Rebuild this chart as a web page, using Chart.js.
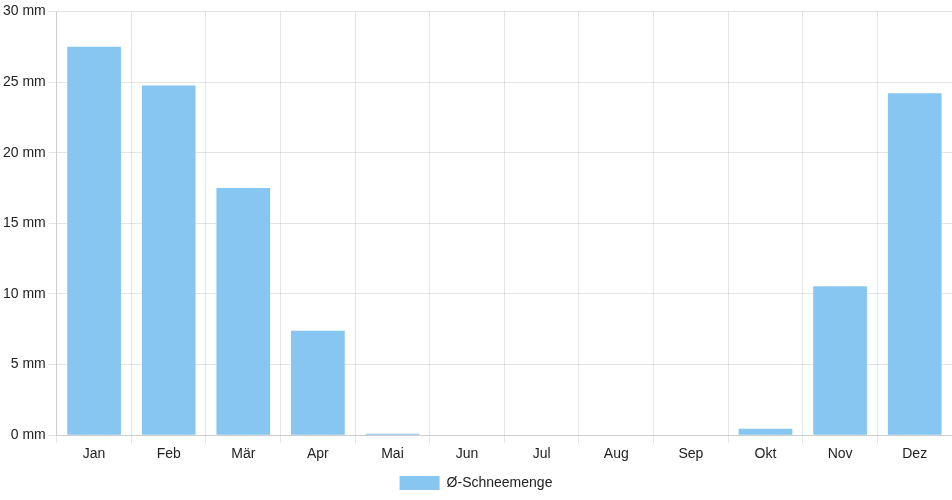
<!DOCTYPE html>
<html>
<head>
<meta charset="utf-8">
<script src="https://cdn.jsdelivr.net/npm/chart.js@4/dist/chart.umd.min.js"></script>
<style>
  html, body { margin: 0; padding: 0; background: #fff; }
  #wrap { width: 952px; height: 500px; }
</style>
</head>
<body>
<div id="wrap"><canvas id="snowChart"></canvas></div>
<script>
const months = ["Jan", "Feb", "Mär", "Apr", "Mai", "Jun", "Jul", "Aug", "Sep", "Okt", "Nov", "Dez"];
const snowAmount = [27.5, 24.75, 17.5, 7.4, 0.1, 0, 0, 0, 0, 0.45, 10.55, 24.2];
const seriesLabel = "Ø-Schneemenge";

Chart.defaults.font.family = "'Liberation Sans', Arial, sans-serif";
Chart.defaults.font.size = 14;
Chart.defaults.color = "#222";

new Chart(document.getElementById("snowChart"), {
  type: "bar",
  data: {
    labels: months,
    datasets: [
      {
        label: seriesLabel,
        data: snowAmount,
        backgroundColor: "#88c6f2",
        borderColor: "#88c6f2",
        borderWidth: 0,
      },
    ],
  },
  options: {
    responsive: true,
    maintainAspectRatio: false,
    animation: false,
    plugins: {
      legend: {
        position: "bottom",
      },
      tooltip: { enabled: false },
    },
    scales: {
      y: {
        min: 0,
        max: 30,
        ticks: {
          stepSize: 5,
          callback: value => value + " mm",
        },
      },
    },
  },
});
</script>
</body>
</html>
